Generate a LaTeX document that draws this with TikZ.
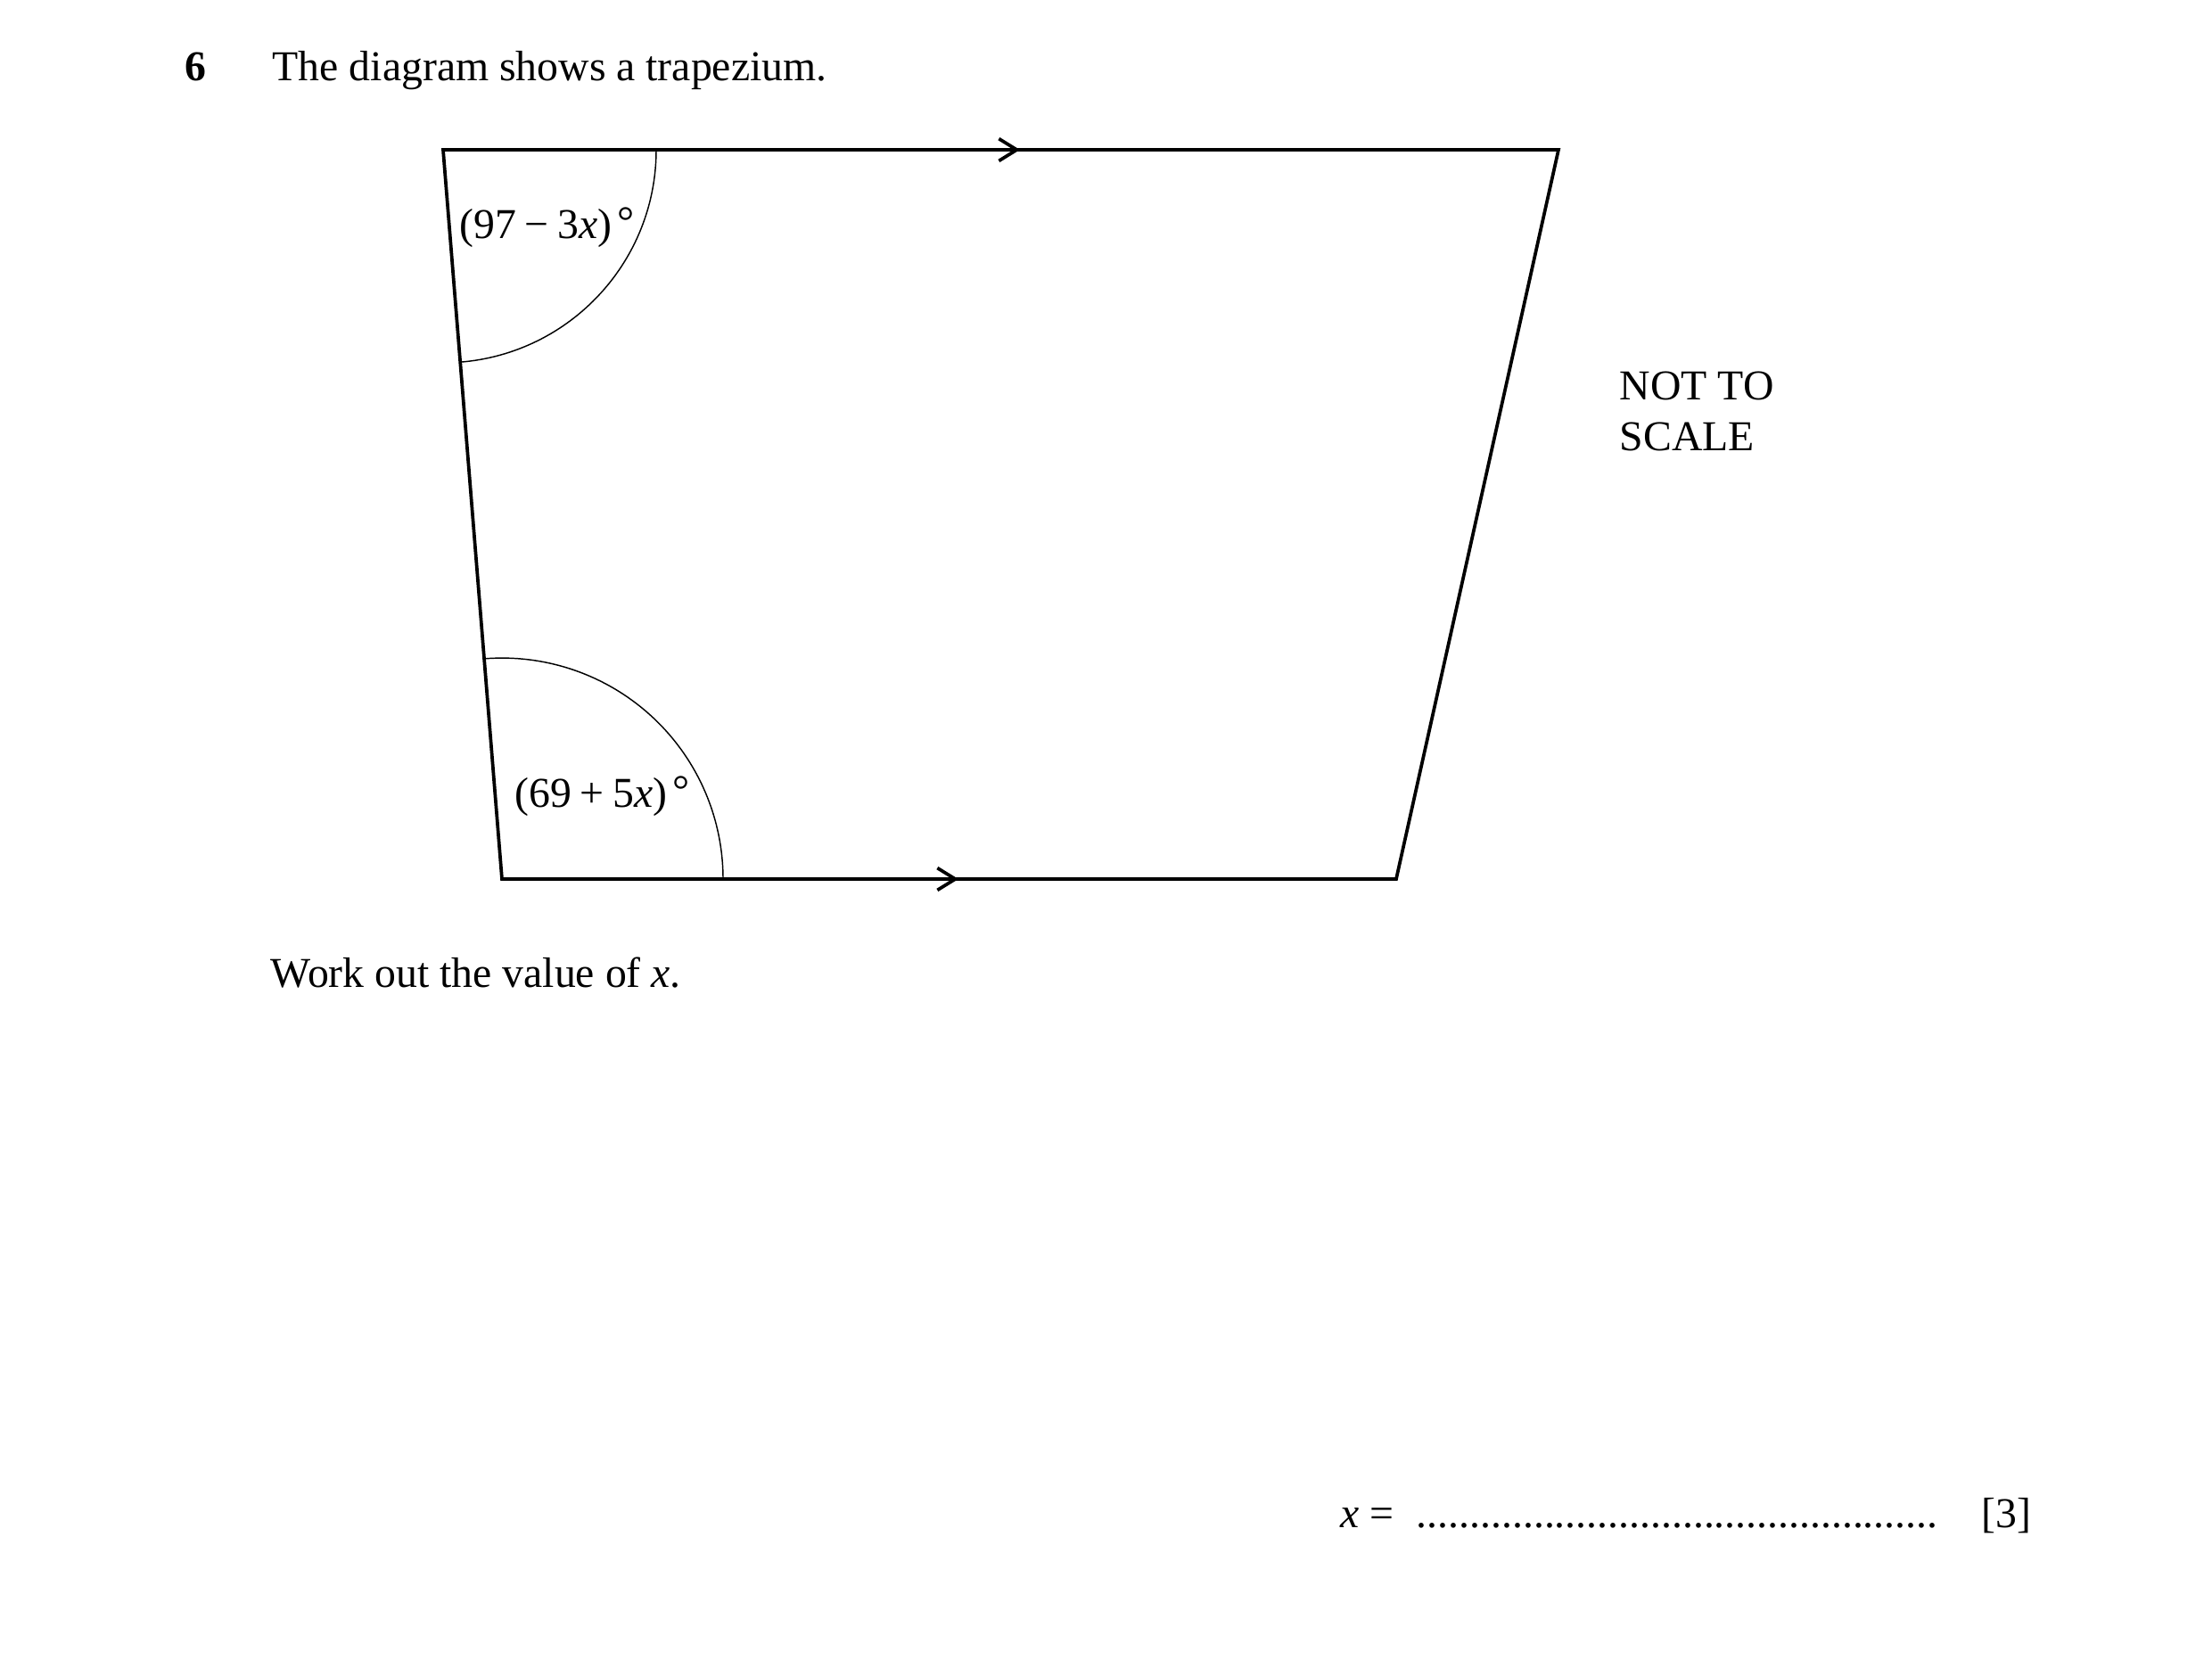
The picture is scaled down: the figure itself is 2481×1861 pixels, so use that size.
\documentclass[tikz,border=0pt]{standalone}
\usepackage{fontspec}
\setmainfont{Liberation Serif}
\usepackage{tikz}
\usetikzlibrary{arrows.meta,positioning}

\begin{document}
\begin{tikzpicture}[x=0.0084667cm, y=-0.0084667cm]
		\tikzstyle{side}=[line width=0.9pt, black, line join=miter]
		\tikzstyle{angle}=[line width=0.35pt, black]
		\tikzstyle{parallel}=[-{Straight Barb[length=1.7mm, width=2.1mm, line width=0.9pt]}, line width=0.9pt]
		\tikzstyle{txt}=[inner sep=0pt, anchor=base west, font=\fontsize{11.5}{13.7}\selectfont]
		\useasboundingbox (0,0) rectangle (2481,1861);
		
		\node[txt, font=\fontsize{11.5}{13.7}\selectfont\bfseries] (qnum) at (207,90) {6};
		\node[txt] (question) at (305,90) {The diagram shows a trapezium.};
		
		\coordinate (A) at (497,168);
		\coordinate (B) at (1748,168);
		\coordinate (C) at (1566,986);
		\coordinate (D) at (563,986);
		\coordinate (topmark) at (1144,168);
		\coordinate (botmark) at (1075,986);
		
		\draw[side] (A) -- (B) -- (C) -- (D) -- cycle;
		\draw[parallel] (A) -- (topmark);
		\draw[parallel] (D) -- (botmark);
		
		% angle marks
		\draw[angle] (A) ++(239,0) arc[start angle=0, end angle=-85.4, radius=2.0235cm];
		\draw[angle] (D) ++(248,0) arc[start angle=0, end angle=94.6, radius=2.0997cm];
		
		\node[txt] (angA) at (515,267) {(97\hspace{0.2em}−\hspace{0.2em}3\textit{x})\hspace{0.12em}\raisebox{0.1ex}{°}};
		\node[txt] (angD) at (577,905) {(69\hspace{0.2em}+\hspace{0.2em}5\textit{x})\hspace{0.12em}\raisebox{0.1ex}{°}};
		
		\node[txt] (notto) at (1816,448) {NOT TO};
		\node[txt] (scale) at (1816,505) {SCALE};
		
		\node[txt] (task) at (303,1107) {Work out the value of \textit{x}.};
		
		\node[txt] (xeq) at (1503,1713) {\textit{x} =};
		\node[txt] (dots) at (1588,1713) {\makebox[5.01cm]{\leaders\hbox{.}\hfill}};
		\node[txt] (marks) at (2222,1713) {[3]};
	\end{tikzpicture}
\end{document}
